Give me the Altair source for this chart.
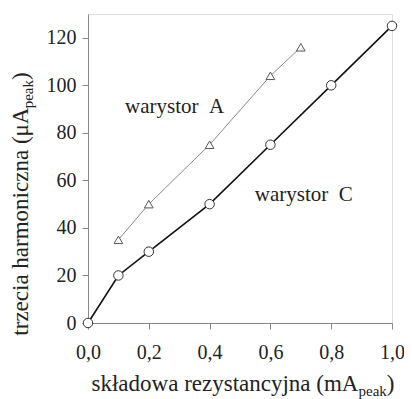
import altair as alt
import pandas as pd

# --- data ---
xA = [0.1, 0.2, 0.4, 0.6, 0.7]
yA = [35, 50, 75, 104, 116]
xC = [0.0, 0.1, 0.2, 0.4, 0.6, 0.8, 1.0]
yC = [0, 20, 30, 50, 75, 100, 125]
x_ticks = [0.0, 0.2, 0.4, 0.6, 0.8, 1.0]
y_ticks = [0, 20, 40, 60, 80, 100, 120]
labels = ["warystor\u00a0\u00a0A", "warystor\u00a0\u00a0C"]
label_x = [0.285, 0.71]
label_y = [88.5, 51.5]

dfA = pd.DataFrame({"x": xA, "y": yA})
dfC = pd.DataFrame({"x": xC, "y": yC})
dfL = pd.DataFrame({"x": label_x, "y": label_y, "t": labels})

FONT = "Liberation Serif, Times New Roman, serif"
W, H = 304, 309
PL = 80  # left padding -> plot left at page x 88

xs = alt.Scale(domain=[0, 1], nice=False)
ys = alt.Scale(domain=[0, 130], nice=False)

xax = alt.Axis(values=x_ticks, title=None, grid=False, labelFlush=False,
               labelExpr="replace(format(datum.value, '.1f'), '.', ',')",
               labelFont=FONT, labelFontSize=20, labelColor="#222",
               labelPadding=13, tickSize=6, tickColor="#888", domainColor="#888")
yax = alt.Axis(values=y_ticks, title=None, grid=False, labelFlush=False,
               labelFont=FONT, labelFontSize=20, labelColor="#222",
               labelPadding=6, tickSize=6, tickColor="#888", domainColor="#888")

X = alt.X("x:Q", scale=xs, axis=xax)
Y = alt.Y("y:Q", scale=ys, axis=yax)

lineA = alt.Chart(dfA).mark_line(color="#888", strokeWidth=1).encode(x=X, y=Y)
ptsA = alt.Chart(dfA).mark_point(shape="triangle-up", size=75, filled=True,
                                 fill="white", stroke="#555", strokeWidth=1,
                                 opacity=1).encode(x=X, y=Y)
lineC = alt.Chart(dfC).mark_line(color="#111", strokeWidth=1.6).encode(x=X, y=Y)
ptsC = alt.Chart(dfC).mark_point(shape="circle", size=90, filled=True,
                                 fill="white", stroke="#333", strokeWidth=1,
                                 opacity=1).encode(x=X, y=Y)
lbl = alt.Chart(dfL).mark_text(font=FONT, fontSize=21, color="#222",
                               baseline="alphabetic").encode(x=X, y=Y, text="t:N")

# --- axis titles with subscript, widths from Times metrics ---
wt = {"s": 389, "k": 500, "ł": 278, "a": 444, "d": 500, "o": 500, "w": 722,
      " ": 250, "r": 333, "e": 444, "z": 444, "y": 500, "t": 278, "n": 500,
      "c": 444, "j": 278, "(": 333, "m": 778, "A": 722, ")": 333, "p": 500,
      "i": 278, "h": 500, "μ": 500}


def tw(s, fs):
    return sum(wt.get(ch, 500) for ch in s) * fs / 1000.0


FS, FSS = 23, 15
dummy = pd.DataFrame({"d": [0]})


def piece(text, x, y, fs, angle=0):
    return alt.Chart(dummy).mark_text(text=text, font=FONT, fontSize=fs,
                                      color="#222", align="left",
                                      baseline="alphabetic", angle=angle).encode(
        x=alt.value(x), y=alt.value(y))


# x title
xm, xsub = "składowa rezystancyjna (mA", "peak"
wx = tw(xm, FS) + tw(xsub, FSS) + tw(")", FS)
x0 = 155 - wx / 2
xb = 377
xt = (piece(xm, x0, xb, FS) +
      piece(xsub, x0 + tw(xm, FS), xb + 5, FSS) +
      piece(")", x0 + tw(xm, FS) + tw(xsub, FSS), xb, FS))

# y title (rotated)
ym, ysub = "trzecia harmoniczna (μA", "peak"
wy = tw(ym, FS) + tw(ysub, FSS) + tw(")", FS)
y0 = 190 + wy / 2
yb = -60
yt = (piece(ym, yb, y0, FS, 270) +
      piece(ysub, yb + 5, y0 - tw(ym, FS), FSS, 270) +
      piece(")", yb, y0 - tw(ym, FS) - tw(ysub, FSS), FS, 270))

chart = alt.layer(lineA, ptsA, lineC, ptsC, lbl, xt, yt).properties(
    width=W, height=H,
    autosize=alt.AutoSizeParams(type="none"),
    padding={"left": PL, "top": 6, "right": 12, "bottom": 76},
).configure_view(stroke="#888", strokeWidth=1).configure(background="white")

chart.save("out.html", embed_options={"renderer": "svg", "actions": False})
